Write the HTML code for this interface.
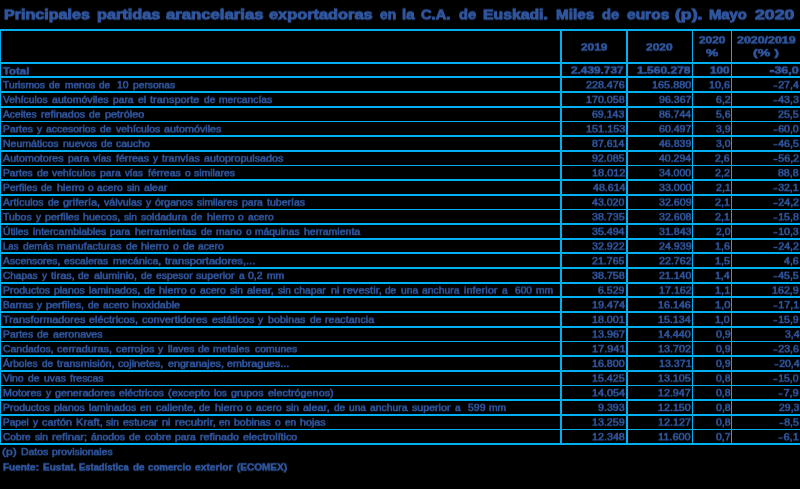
<!DOCTYPE html>
<html lang="es"><head><meta charset="utf-8"><title>Tabla</title>
<style>
html,body{margin:0;padding:0;background:#000;}
body{width:800px;height:489px;overflow:hidden;position:relative;font-family:"Liberation Sans",sans-serif;color:#30569F;}
#w{position:absolute;left:0;top:0;width:800px;height:489px;will-change:transform;}
svg{position:absolute;left:0;top:0;}
.t{position:absolute;white-space:pre;line-height:1;font-size:10.2px;transform-origin:0 0;-webkit-text-stroke:0.6px #30569F;}
.b{font-weight:bold;}
.ly{position:absolute;left:0;width:800px;will-change:transform;}
.tt{font-size:14.6px;-webkit-text-stroke:1px #30569F;}
.hy{display:inline-block;transform:scaleX(1.25);transform-origin:100% 50%;margin:0 0.6px 0 1px;}
.b .hy{transform:scale(1.15,1.5);margin:0 0.4px 0 0.6px;}
</style></head><body><div id="w">
<svg width="800" height="489" viewBox="0 0 800 489"><g fill="#00B0F0" shape-rendering="crispEdges"><rect x="0" y="29" width="800" height="2"/><rect x="0" y="62" width="800" height="2"/><rect x="0" y="76" width="800" height="2"/><rect x="0" y="91" width="800" height="2"/><rect x="0" y="106" width="800" height="2"/><rect x="0" y="121" width="800" height="1"/><rect x="0" y="135" width="800" height="2"/><rect x="0" y="150" width="800" height="2"/><rect x="0" y="165" width="800" height="1"/><rect x="0" y="179" width="800" height="2"/><rect x="0" y="194" width="800" height="2"/><rect x="0" y="209" width="800" height="1"/><rect x="0" y="223" width="800" height="2"/><rect x="0" y="238" width="800" height="2"/><rect x="0" y="252" width="800" height="2"/><rect x="0" y="267" width="800" height="2"/><rect x="0" y="282" width="800" height="2"/><rect x="0" y="296" width="800" height="2"/><rect x="0" y="311" width="800" height="2"/><rect x="0" y="326" width="800" height="2"/><rect x="0" y="341" width="800" height="1"/><rect x="0" y="355" width="800" height="2"/><rect x="0" y="370" width="800" height="2"/><rect x="0" y="385" width="800" height="1"/><rect x="0" y="399" width="800" height="2"/><rect x="0" y="414" width="800" height="2"/><rect x="0" y="429" width="800" height="1"/><rect x="0" y="443" width="800" height="2"/><rect x="0" y="29" width="1" height="416"/><rect x="560" y="29" width="2" height="416"/><rect x="626" y="29" width="2" height="416"/><rect x="692" y="29" width="1" height="416"/><rect x="731" y="29" width="1" height="416"/></g></svg>
<div class="ly" style="top:4px;height:24px;transform-origin:400px 15px;transform:translateY(0.30px) scaleY(0.96) rotate(0.004deg)">
<div id="t0" class="t b tt" style="left:4px;top:3px;transform:scaleX(1.1035)">Principales</div>
<div id="t1" class="t b tt" style="left:97px;top:3px;transform:scaleX(1.1162)">partidas</div>
<div id="t2" class="t b tt" style="left:166px;top:3px;transform:scaleX(1.1447)">arancelarias</div>
<div id="t3" class="t b tt" style="left:269px;top:3px;transform:scaleX(1.1204)">exportadoras</div>
<div id="t4" class="t b tt" style="left:380px;top:3px;transform:scaleX(0.9414)">en</div>
<div id="t5" class="t b tt" style="left:402px;top:3px;transform:scaleX(1.0217)">la</div>
<div id="t6" class="t b tt" style="left:421px;top:3px;transform:scaleX(1.0039)">C.A.</div>
<div id="t7" class="t b tt" style="left:459px;top:3px;transform:scaleX(1.0008)">de</div>
<div id="t8" class="t b tt" style="left:483px;top:3px;transform:scaleX(1.0799)">Euskadi.</div>
<div id="t9" class="t b tt" style="left:556px;top:3px;transform:scaleX(1.0456)">Miles</div>
<div id="t10" class="t b tt" style="left:602px;top:3px;transform:scaleX(1.0008)">de</div>
<div id="t11" class="t b tt" style="left:627px;top:3px;transform:scaleX(1.0634)">euros</div>
<div id="t12" class="t b tt" style="left:675px;top:3px;transform:scaleX(1.2078)">(p).</div>
<div id="t13" class="t b tt" style="left:709px;top:3px;transform:scaleX(1.0138)">Mayo</div>
<div id="t14" class="t b tt" style="left:755px;top:3px;transform:scaleX(1.2115)">2020</div>
</div>
<div class="ly" style="top:40px;height:24px;transform-origin:400px 11px;transform:translateY(-0.45px) scaleY(0.9) rotate(0.004deg)">
<div id="h1" class="t b" style="left:581px;top:3px;transform:scaleX(1.1594)">2019</div>
<div id="h2" class="t b" style="left:646px;top:3px;transform:scaleX(1.1699)">2020</div>
</div>
<div class="ly" style="top:32px;height:24px;transform-origin:400px 11px;transform:translateY(0.45px) scaleY(0.9) rotate(0.004deg)">
<div id="h3a" class="t b" style="left:699px;top:3px;transform:scaleX(1.1589)">2020</div>
<div id="h4a" class="t b" style="left:737px;top:3px;transform:scaleX(1.2181)">2020/2019</div>
</div>
<div class="ly" style="top:45px;height:24px;transform-origin:400px 11px;transform:translateY(0.30px) scaleY(0.9) rotate(0.004deg)">
<div id="h3b" class="t b" style="left:706px;top:3px;transform:scaleX(1.3440)">%</div>
<div id="h4b" class="t b" style="left:753px;top:3px;transform:scaleX(1.3872)">(% )</div>
</div>
<div class="ly" style="top:64px;height:24px;transform-origin:400px 11px;transform:translateY(-0.50px) scaleY(0.9) rotate(0.004deg)">
<div id="r0l" class="t b" style="left:3px;top:3px;transform:scaleX(1.1184)">Total</div>
</div>
<div class="ly" style="top:63px;height:24px;transform-origin:400px 11px;transform:translateY(-0.40px) scaleY(0.9) rotate(0.004deg)">
<div id="r0a" class="t b" style="left:571px;top:3px;transform:scaleX(1.1594)">2.439.737</div>
<div id="r0b" class="t b" style="left:637px;top:3px;transform:scaleX(1.1809)">1.560.278</div>
<div id="r0c" class="t b" style="left:710px;top:3px;transform:scaleX(1.1497)">100</div>
<div id="r0d" class="t b" style="left:769px;top:3px;transform:scaleX(1.2259)"><span class="hy">-</span>36,0</div>
</div>
<div class="ly" style="top:77px;height:24px;transform-origin:400px 11px;transform:translateY(0.35px) scaleY(0.9) rotate(0.004deg)">
<div id="r1w0" class="t" style="left:3px;top:3px;transform:scaleX(1.0109)">Turismos</div>
<div id="r1w1" class="t" style="left:49px;top:3px;transform:scaleX(0.9763)">de</div>
<div id="r1w2" class="t" style="left:65px;top:3px;transform:scaleX(0.9945)">menos</div>
<div id="r1w3" class="t" style="left:99px;top:3px;transform:scaleX(0.9763)">de</div>
<div id="r1w4" class="t" style="left:117px;top:3px;transform:scaleX(1.0171)">10</div>
<div id="r1w5" class="t" style="left:133px;top:3px;transform:scaleX(1.0039)">personas</div>
<div id="r1a" class="t" style="left:586px;top:3px;transform:scaleX(1.0482)">228.476</div>
<div id="r1b" class="t" style="left:652px;top:3px;transform:scaleX(1.0674)">165.880</div>
<div id="r1c" class="t" style="left:709px;top:3px;transform:scaleX(1.0668)">10,6</div>
<div id="r1d" class="t" style="left:773px;top:3px;transform:scaleX(1.0409)"><span class="hy">-</span>27,4</div>
</div>
<div class="ly" style="top:92px;height:24px;transform-origin:400px 11px;transform:translateY(0.01px) scaleY(0.9) rotate(0.004deg)">
<div id="r2w0" class="t" style="left:3px;top:3px;transform:scaleX(1.0099)">Vehículos</div>
<div id="r2w1" class="t" style="left:52px;top:3px;transform:scaleX(1.0409)">automóviles</div>
<div id="r2w2" class="t" style="left:113px;top:3px;transform:scaleX(1.0066)">para</div>
<div id="r2w3" class="t" style="left:138px;top:3px;transform:scaleX(1.0356)">el</div>
<div id="r2w4" class="t" style="left:150px;top:3px;transform:scaleX(1.0768)">transporte</div>
<div id="r2w5" class="t" style="left:204px;top:3px;transform:scaleX(0.9989)">de</div>
<div id="r2w6" class="t" style="left:219px;top:3px;transform:scaleX(1.0088)">mercancías</div>
<div id="r2a" class="t" style="left:586px;top:3px;transform:scaleX(1.0498)">170.058</div>
<div id="r2b" class="t" style="left:659px;top:3px;transform:scaleX(1.0403)">96.367</div>
<div id="r2c" class="t" style="left:716px;top:3px;transform:scaleX(1.0443)">6,2</div>
<div id="r2d" class="t" style="left:773px;top:3px;transform:scaleX(1.0376)"><span class="hy">-</span>43,3</div>
</div>
<div class="ly" style="top:107px;height:24px;transform-origin:400px 11px;transform:translateY(-0.32px) scaleY(0.9) rotate(0.004deg)">
<div id="r3w0" class="t" style="left:3px;top:3px;transform:scaleX(1.0085)">Aceites</div>
<div id="r3w1" class="t" style="left:41px;top:3px;transform:scaleX(1.0526)">refinados</div>
<div id="r3w2" class="t" style="left:89px;top:3px;transform:scaleX(1.0084)">de</div>
<div id="r3w3" class="t" style="left:105px;top:3px;transform:scaleX(1.0678)">petróleo</div>
<div id="r3a" class="t" style="left:592px;top:3px;transform:scaleX(1.0358)">69.143</div>
<div id="r3b" class="t" style="left:659px;top:3px;transform:scaleX(1.0296)">86.744</div>
<div id="r3c" class="t" style="left:716px;top:3px;transform:scaleX(1.0229)">5,6</div>
<div id="r3d" class="t" style="left:778px;top:3px;transform:scaleX(1.0435)">25,5</div>
</div>
<div class="ly" style="top:121px;height:24px;transform-origin:400px 11px;transform:translateY(0.34px) scaleY(0.9) rotate(0.004deg)">
<div id="r4w0" class="t" style="left:3px;top:3px;transform:scaleX(1.0155)">Partes</div>
<div id="r4w1" class="t" style="left:37px;top:3px;transform:scaleX(1.0000)">y</div>
<div id="r4w2" class="t" style="left:46px;top:3px;transform:scaleX(1.0231)">accesorios</div>
<div id="r4w3" class="t" style="left:100px;top:3px;transform:scaleX(1.0095)">de</div>
<div id="r4w4" class="t" style="left:116px;top:3px;transform:scaleX(1.0302)">vehículos</div>
<div id="r4w5" class="t" style="left:164px;top:3px;transform:scaleX(1.0558)">automóviles</div>
<div id="r4a" class="t" style="left:586px;top:3px;transform:scaleX(1.0690)">151.153</div>
<div id="r4b" class="t" style="left:659px;top:3px;transform:scaleX(1.0373)">60.497</div>
<div id="r4c" class="t" style="left:716px;top:3px;transform:scaleX(1.0312)">3,9</div>
<div id="r4d" class="t" style="left:773px;top:3px;transform:scaleX(1.0358)"><span class="hy">-</span>60,0</div>
</div>
<div class="ly" style="top:136px;height:24px;transform-origin:400px 11px;transform:translateY(0.01px) scaleY(0.9) rotate(0.004deg)">
<div id="r5w0" class="t" style="left:3px;top:3px;transform:scaleX(1.0337)">Neumáticos</div>
<div id="r5w1" class="t" style="left:63px;top:3px;transform:scaleX(1.0357)">nuevos</div>
<div id="r5w2" class="t" style="left:101px;top:3px;transform:scaleX(1.0027)">de</div>
<div id="r5w3" class="t" style="left:116px;top:3px;transform:scaleX(1.0296)">caucho</div>
<div id="r5a" class="t" style="left:592px;top:3px;transform:scaleX(1.0384)">87.614</div>
<div id="r5b" class="t" style="left:659px;top:3px;transform:scaleX(1.0368)">46.839</div>
<div id="r5c" class="t" style="left:716px;top:3px;transform:scaleX(1.0179)">3,0</div>
<div id="r5d" class="t" style="left:773px;top:3px;transform:scaleX(1.0376)"><span class="hy">-</span>46,5</div>
</div>
<div class="ly" style="top:151px;height:24px;transform-origin:400px 11px;transform:translateY(-0.33px) scaleY(0.9) rotate(0.004deg)">
<div id="r6w0" class="t" style="left:3px;top:3px;transform:scaleX(1.0488)">Automotores</div>
<div id="r6w1" class="t" style="left:68px;top:3px;transform:scaleX(1.0316)">para</div>
<div id="r6w2" class="t" style="left:93px;top:3px;transform:scaleX(0.9758)">vías</div>
<div id="r6w3" class="t" style="left:116px;top:3px;transform:scaleX(1.0439)">férreas</div>
<div id="r6w4" class="t" style="left:153px;top:3px;transform:scaleX(1.0000)">y</div>
<div id="r6w5" class="t" style="left:162px;top:3px;transform:scaleX(1.0419)">tranvías</div>
<div id="r6w6" class="t" style="left:204px;top:3px;transform:scaleX(1.0535)">autopropulsados</div>
<div id="r6a" class="t" style="left:592px;top:3px;transform:scaleX(1.0421)">92.085</div>
<div id="r6b" class="t" style="left:659px;top:3px;transform:scaleX(1.0280)">40.294</div>
<div id="r6c" class="t" style="left:715px;top:3px;transform:scaleX(1.0307)">2,6</div>
<div id="r6d" class="t" style="left:773px;top:3px;transform:scaleX(1.0493)"><span class="hy">-</span>56,2</div>
</div>
<div class="ly" style="top:165px;height:24px;transform-origin:400px 11px;transform:translateY(0.33px) scaleY(0.9) rotate(0.004deg)">
<div id="r7w0" class="t" style="left:3px;top:3px;transform:scaleX(1.0113)">Partes</div>
<div id="r7w1" class="t" style="left:37px;top:3px;transform:scaleX(1.0309)">de</div>
<div id="r7w2" class="t" style="left:52px;top:3px;transform:scaleX(1.0141)">vehículos</div>
<div id="r7w3" class="t" style="left:100px;top:3px;transform:scaleX(1.0248)">para</div>
<div id="r7w4" class="t" style="left:125px;top:3px;transform:scaleX(0.9506)">vías</div>
<div id="r7w5" class="t" style="left:148px;top:3px;transform:scaleX(1.0332)">férreas</div>
<div id="r7w6" class="t" style="left:185px;top:3px;transform:scaleX(1.0000)">o</div>
<div id="r7w7" class="t" style="left:194px;top:3px;transform:scaleX(1.0214)">similares</div>
<div id="r7a" class="t" style="left:592px;top:3px;transform:scaleX(1.0728)">18.012</div>
<div id="r7b" class="t" style="left:659px;top:3px;transform:scaleX(1.0304)">34.000</div>
<div id="r7c" class="t" style="left:715px;top:3px;transform:scaleX(1.0480)">2,2</div>
<div id="r7d" class="t" style="left:778px;top:3px;transform:scaleX(1.0330)">88,8</div>
</div>
<div class="ly" style="top:180px;height:24px;transform-origin:400px 11px;transform:translateY(-0.00px) scaleY(0.9) rotate(0.004deg)">
<div id="r8w0" class="t" style="left:3px;top:3px;transform:scaleX(1.0125)">Perfiles</div>
<div id="r8w1" class="t" style="left:41px;top:3px;transform:scaleX(0.9875)">de</div>
<div id="r8w2" class="t" style="left:57px;top:3px;transform:scaleX(1.0589)">hierro</div>
<div id="r8w3" class="t" style="left:88px;top:3px;transform:scaleX(1.0000)">o</div>
<div id="r8w4" class="t" style="left:97px;top:3px;transform:scaleX(1.0047)">acero</div>
<div id="r8w5" class="t" style="left:127px;top:3px;transform:scaleX(0.9856)">sin</div>
<div id="r8w6" class="t" style="left:144px;top:3px;transform:scaleX(1.0224)">alear</div>
<div id="r8a" class="t" style="left:593px;top:3px;transform:scaleX(1.0415)">48.614</div>
<div id="r8b" class="t" style="left:659px;top:3px;transform:scaleX(1.0439)">33.000</div>
<div id="r8c" class="t" style="left:716px;top:3px;transform:scaleX(1.0402)">2,1</div>
<div id="r8d" class="t" style="left:773px;top:3px;transform:scaleX(1.0331)"><span class="hy">-</span>32,1</div>
</div>
<div class="ly" style="top:195px;height:24px;transform-origin:400px 11px;transform:translateY(-0.34px) scaleY(0.9) rotate(0.004deg)">
<div id="r9w0" class="t" style="left:3px;top:3px;transform:scaleX(1.0230)">Artículos</div>
<div id="r9w1" class="t" style="left:48px;top:3px;transform:scaleX(0.9909)">de</div>
<div id="r9w2" class="t" style="left:63px;top:3px;transform:scaleX(1.0749)">grifería,</div>
<div id="r9w3" class="t" style="left:104px;top:3px;transform:scaleX(1.0345)">válvulas</div>
<div id="r9w4" class="t" style="left:146px;top:3px;transform:scaleX(1.0000)">y</div>
<div id="r9w5" class="t" style="left:155px;top:3px;transform:scaleX(1.0313)">órganos</div>
<div id="r9w6" class="t" style="left:197px;top:3px;transform:scaleX(1.0119)">similares</div>
<div id="r9w7" class="t" style="left:242px;top:3px;transform:scaleX(1.0270)">para</div>
<div id="r9w8" class="t" style="left:267px;top:3px;transform:scaleX(1.0353)">tuberías</div>
<div id="r9a" class="t" style="left:592px;top:3px;transform:scaleX(1.0378)">43.020</div>
<div id="r9b" class="t" style="left:659px;top:3px;transform:scaleX(1.0454)">32.609</div>
<div id="r9c" class="t" style="left:715px;top:3px;transform:scaleX(1.0682)">2,1</div>
<div id="r9d" class="t" style="left:773px;top:3px;transform:scaleX(1.0494)"><span class="hy">-</span>24,2</div>
</div>
<div class="ly" style="top:209px;height:24px;transform-origin:400px 11px;transform:translateY(0.33px) scaleY(0.9) rotate(0.004deg)">
<div id="r10w0" class="t" style="left:3px;top:3px;transform:scaleX(1.0256)">Tubos</div>
<div id="r10w1" class="t" style="left:36px;top:3px;transform:scaleX(1.0000)">y</div>
<div id="r10w2" class="t" style="left:45px;top:3px;transform:scaleX(1.0408)">perfiles</div>
<div id="r10w3" class="t" style="left:83px;top:3px;transform:scaleX(1.0411)">huecos,</div>
<div id="r10w4" class="t" style="left:124px;top:3px;transform:scaleX(0.9953)">sin</div>
<div id="r10w5" class="t" style="left:141px;top:3px;transform:scaleX(1.0279)">soldadura</div>
<div id="r10w6" class="t" style="left:191px;top:3px;transform:scaleX(0.9943)">de</div>
<div id="r10w7" class="t" style="left:207px;top:3px;transform:scaleX(1.0604)">hierro</div>
<div id="r10w8" class="t" style="left:238px;top:3px;transform:scaleX(1.0000)">o</div>
<div id="r10w9" class="t" style="left:248px;top:3px;transform:scaleX(1.0029)">acero</div>
<div id="r10a" class="t" style="left:592px;top:3px;transform:scaleX(1.0454)">38.735</div>
<div id="r10b" class="t" style="left:659px;top:3px;transform:scaleX(1.0424)">32.608</div>
<div id="r10c" class="t" style="left:715px;top:3px;transform:scaleX(1.0504)">2,1</div>
<div id="r10d" class="t" style="left:773px;top:3px;transform:scaleX(1.0384)"><span class="hy">-</span>15,8</div>
</div>
<div class="ly" style="top:224px;height:24px;transform-origin:400px 11px;transform:translateY(-0.01px) scaleY(0.9) rotate(0.004deg)">
<div id="r11w0" class="t" style="left:3px;top:3px;transform:scaleX(1.0073)">Útiles</div>
<div id="r11w1" class="t" style="left:33px;top:3px;transform:scaleX(1.0276)">intercambiables</div>
<div id="r11w2" class="t" style="left:110px;top:3px;transform:scaleX(0.9844)">para</div>
<div id="r11w3" class="t" style="left:135px;top:3px;transform:scaleX(1.0359)">herramientas</div>
<div id="r11w4" class="t" style="left:201px;top:3px;transform:scaleX(0.9786)">de</div>
<div id="r11w5" class="t" style="left:216px;top:3px;transform:scaleX(1.0105)">mano</div>
<div id="r11w6" class="t" style="left:246px;top:3px;transform:scaleX(1.0000)">o</div>
<div id="r11w7" class="t" style="left:255px;top:3px;transform:scaleX(1.0091)">máquinas</div>
<div id="r11w8" class="t" style="left:304px;top:3px;transform:scaleX(1.0334)">herramienta</div>
<div id="r11a" class="t" style="left:592px;top:3px;transform:scaleX(1.0427)">35.494</div>
<div id="r11b" class="t" style="left:659px;top:3px;transform:scaleX(1.0410)">31.843</div>
<div id="r11c" class="t" style="left:716px;top:3px;transform:scaleX(1.0185)">2,0</div>
<div id="r11d" class="t" style="left:773px;top:3px;transform:scaleX(1.0369)"><span class="hy">-</span>10,3</div>
</div>
<div class="ly" style="top:239px;height:24px;transform-origin:400px 11px;transform:translateY(-0.35px) scaleY(0.9) rotate(0.004deg)">
<div id="r12w0" class="t" style="left:3px;top:3px;transform:scaleX(0.9442)">Las</div>
<div id="r12w1" class="t" style="left:23px;top:3px;transform:scaleX(1.0004)">demás</div>
<div id="r12w2" class="t" style="left:57px;top:3px;transform:scaleX(1.0463)">manufacturas</div>
<div id="r12w3" class="t" style="left:126px;top:3px;transform:scaleX(1.0159)">de</div>
<div id="r12w4" class="t" style="left:141px;top:3px;transform:scaleX(1.0649)">hierro</div>
<div id="r12w5" class="t" style="left:173px;top:3px;transform:scaleX(1.0000)">o</div>
<div id="r12w6" class="t" style="left:183px;top:3px;transform:scaleX(1.0148)">de</div>
<div id="r12w7" class="t" style="left:198px;top:3px;transform:scaleX(1.0106)">acero</div>
<div id="r12a" class="t" style="left:592px;top:3px;transform:scaleX(1.0489)">32.922</div>
<div id="r12b" class="t" style="left:659px;top:3px;transform:scaleX(1.0465)">24.939</div>
<div id="r12c" class="t" style="left:715px;top:3px;transform:scaleX(1.0529)">1,6</div>
<div id="r12d" class="t" style="left:773px;top:3px;transform:scaleX(1.0485)"><span class="hy">-</span>24,2</div>
</div>
<div class="ly" style="top:253px;height:24px;transform-origin:400px 11px;transform:translateY(0.32px) scaleY(0.9) rotate(0.004deg)">
<div id="r13w0" class="t" style="left:3px;top:3px;transform:scaleX(1.0252)">Ascensores,</div>
<div id="r13w1" class="t" style="left:64px;top:3px;transform:scaleX(1.0148)">escaleras</div>
<div id="r13w2" class="t" style="left:113px;top:3px;transform:scaleX(1.0403)">mecánica,</div>
<div id="r13w3" class="t" style="left:165px;top:3px;transform:scaleX(1.0915)">transportadores,...</div>
<div id="r13a" class="t" style="left:592px;top:3px;transform:scaleX(1.0412)">21.765</div>
<div id="r13b" class="t" style="left:659px;top:3px;transform:scaleX(1.0491)">22.762</div>
<div id="r13c" class="t" style="left:715px;top:3px;transform:scaleX(1.0705)">1,5</div>
<div id="r13d" class="t" style="left:784px;top:3px;transform:scaleX(1.0378)">4,6</div>
</div>
<div class="ly" style="top:268px;height:24px;transform-origin:400px 11px;transform:translateY(-0.02px) scaleY(0.9) rotate(0.004deg)">
<div id="r14w0" class="t" style="left:3px;top:3px;transform:scaleX(0.9834)">Chapas</div>
<div id="r14w1" class="t" style="left:42px;top:3px;transform:scaleX(1.0000)">y</div>
<div id="r14w2" class="t" style="left:51px;top:3px;transform:scaleX(1.0811)">tiras,</div>
<div id="r14w3" class="t" style="left:78px;top:3px;transform:scaleX(0.9878)">de</div>
<div id="r14w4" class="t" style="left:94px;top:3px;transform:scaleX(1.0555)">aluminio,</div>
<div id="r14w5" class="t" style="left:141px;top:3px;transform:scaleX(0.9877)">de</div>
<div id="r14w6" class="t" style="left:156px;top:3px;transform:scaleX(1.0117)">espesor</div>
<div id="r14w7" class="t" style="left:196px;top:3px;transform:scaleX(1.0494)">superior</div>
<div id="r14w8" class="t" style="left:239px;top:3px;transform:scaleX(1.0000)">a</div>
<div id="r14w9" class="t" style="left:248px;top:3px;transform:scaleX(1.0281)">0,2</div>
<div id="r14w10" class="t" style="left:267px;top:3px;transform:scaleX(1.0112)">mm</div>
<div id="r14a" class="t" style="left:592px;top:3px;transform:scaleX(1.0505)">38.758</div>
<div id="r14b" class="t" style="left:659px;top:3px;transform:scaleX(1.0369)">21.140</div>
<div id="r14c" class="t" style="left:715px;top:3px;transform:scaleX(1.0340)">1,4</div>
<div id="r14d" class="t" style="left:773px;top:3px;transform:scaleX(1.0367)"><span class="hy">-</span>45,5</div>
</div>
<div class="ly" style="top:283px;height:24px;transform-origin:400px 11px;transform:translateY(-0.35px) scaleY(0.9) rotate(0.004deg)">
<div id="r15w0" class="t" style="left:3px;top:3px;transform:scaleX(1.0267)">Productos</div>
<div id="r15w1" class="t" style="left:54px;top:3px;transform:scaleX(1.0215)">planos</div>
<div id="r15w2" class="t" style="left:89px;top:3px;transform:scaleX(1.0371)">laminados,</div>
<div id="r15w3" class="t" style="left:144px;top:3px;transform:scaleX(0.9917)">de</div>
<div id="r15w4" class="t" style="left:159px;top:3px;transform:scaleX(1.0622)">hierro</div>
<div id="r15w5" class="t" style="left:190px;top:3px;transform:scaleX(1.0000)">o</div>
<div id="r15w6" class="t" style="left:200px;top:3px;transform:scaleX(1.0117)">acero</div>
<div id="r15w7" class="t" style="left:230px;top:3px;transform:scaleX(0.9877)">sin</div>
<div id="r15w8" class="t" style="left:247px;top:3px;transform:scaleX(1.0749)">alear,</div>
<div id="r15w9" class="t" style="left:278px;top:3px;transform:scaleX(0.9877)">sin</div>
<div id="r15w10" class="t" style="left:294px;top:3px;transform:scaleX(1.0161)">chapar</div>
<div id="r15w11" class="t" style="left:331px;top:3px;transform:scaleX(1.0430)">ni</div>
<div id="r15w12" class="t" style="left:343px;top:3px;transform:scaleX(1.0877)">revestir,</div>
<div id="r15w13" class="t" style="left:385px;top:3px;transform:scaleX(0.9903)">de</div>
<div id="r15w14" class="t" style="left:401px;top:3px;transform:scaleX(1.0064)">una</div>
<div id="r15w15" class="t" style="left:422px;top:3px;transform:scaleX(1.0193)">anchura</div>
<div id="r15w16" class="t" style="left:464px;top:3px;transform:scaleX(1.0705)">inferior</div>
<div id="r15w17" class="t" style="left:502px;top:3px;transform:scaleX(1.0000)">a</div>
<div id="r15w18" class="t" style="left:515px;top:3px;transform:scaleX(1.0007)">600</div>
<div id="r15w19" class="t" style="left:536px;top:3px;transform:scaleX(1.0090)">mm</div>
<div id="r15a" class="t" style="left:598px;top:3px;transform:scaleX(1.0335)">6.529</div>
<div id="r15b" class="t" style="left:659px;top:3px;transform:scaleX(1.0505)">17.162</div>
<div id="r15c" class="t" style="left:715px;top:3px;transform:scaleX(1.0799)">1,1</div>
<div id="r15d" class="t" style="left:772px;top:3px;transform:scaleX(1.0483)">162,9</div>
</div>
<div class="ly" style="top:297px;height:24px;transform-origin:400px 11px;transform:translateY(0.31px) scaleY(0.9) rotate(0.004deg)">
<div id="r16w0" class="t" style="left:3px;top:3px;transform:scaleX(1.0048)">Barras</div>
<div id="r16w1" class="t" style="left:37px;top:3px;transform:scaleX(1.0000)">y</div>
<div id="r16w2" class="t" style="left:46px;top:3px;transform:scaleX(1.0680)">perfiles,</div>
<div id="r16w3" class="t" style="left:88px;top:3px;transform:scaleX(0.9863)">de</div>
<div id="r16w4" class="t" style="left:103px;top:3px;transform:scaleX(1.0138)">acero</div>
<div id="r16w5" class="t" style="left:132px;top:3px;transform:scaleX(1.0462)">inoxidable</div>
<div id="r16a" class="t" style="left:592px;top:3px;transform:scaleX(1.0611)">19.474</div>
<div id="r16b" class="t" style="left:658px;top:3px;transform:scaleX(1.0541)">16.146</div>
<div id="r16c" class="t" style="left:715px;top:3px;transform:scaleX(1.0944)">1,0</div>
<div id="r16d" class="t" style="left:773px;top:3px;transform:scaleX(1.0508)"><span class="hy">-</span>17,1</div>
</div>
<div class="ly" style="top:312px;height:24px;transform-origin:400px 11px;transform:translateY(-0.03px) scaleY(0.9) rotate(0.004deg)">
<div id="r17w0" class="t" style="left:3px;top:3px;transform:scaleX(1.0688)">Transformadores</div>
<div id="r17w1" class="t" style="left:89px;top:3px;transform:scaleX(1.0704)">eléctricos,</div>
<div id="r17w2" class="t" style="left:142px;top:3px;transform:scaleX(1.0698)">convertidores</div>
<div id="r17w3" class="t" style="left:212px;top:3px;transform:scaleX(1.0544)">estáticos</div>
<div id="r17w4" class="t" style="left:258px;top:3px;transform:scaleX(1.0000)">y</div>
<div id="r17w5" class="t" style="left:268px;top:3px;transform:scaleX(1.0485)">bobinas</div>
<div id="r17w6" class="t" style="left:310px;top:3px;transform:scaleX(1.0164)">de</div>
<div id="r17w7" class="t" style="left:325px;top:3px;transform:scaleX(1.0434)">reactancia</div>
<div id="r17a" class="t" style="left:592px;top:3px;transform:scaleX(1.0500)">18.001</div>
<div id="r17b" class="t" style="left:658px;top:3px;transform:scaleX(1.0474)">15.134</div>
<div id="r17c" class="t" style="left:715px;top:3px;transform:scaleX(1.0317)">1,0</div>
<div id="r17d" class="t" style="left:773px;top:3px;transform:scaleX(1.0337)"><span class="hy">-</span>15,9</div>
</div>
<div class="ly" style="top:327px;height:24px;transform-origin:400px 11px;transform:translateY(-0.36px) scaleY(0.9) rotate(0.004deg)">
<div id="r18w0" class="t" style="left:3px;top:3px;transform:scaleX(1.0217)">Partes</div>
<div id="r18w1" class="t" style="left:37px;top:3px;transform:scaleX(1.0247)">de</div>
<div id="r18w2" class="t" style="left:53px;top:3px;transform:scaleX(1.0419)">aeronaves</div>
<div id="r18a" class="t" style="left:592px;top:3px;transform:scaleX(1.0589)">13.967</div>
<div id="r18b" class="t" style="left:658px;top:3px;transform:scaleX(1.0463)">14.440</div>
<div id="r18c" class="t" style="left:716px;top:3px;transform:scaleX(1.0444)">0,9</div>
<div id="r18d" class="t" style="left:785px;top:3px;transform:scaleX(1.0170)">3,4</div>
</div>
<div class="ly" style="top:341px;height:24px;transform-origin:400px 11px;transform:translateY(0.30px) scaleY(0.9) rotate(0.004deg)">
<div id="r19w0" class="t" style="left:3px;top:3px;transform:scaleX(1.0269)">Candados,</div>
<div id="r19w1" class="t" style="left:57px;top:3px;transform:scaleX(1.0669)">cerraduras,</div>
<div id="r19w2" class="t" style="left:116px;top:3px;transform:scaleX(1.0595)">cerrojos</div>
<div id="r19w3" class="t" style="left:158px;top:3px;transform:scaleX(1.0000)">y</div>
<div id="r19w4" class="t" style="left:168px;top:3px;transform:scaleX(1.0167)">llaves</div>
<div id="r19w5" class="t" style="left:198px;top:3px;transform:scaleX(1.0319)">de</div>
<div id="r19w6" class="t" style="left:213px;top:3px;transform:scaleX(1.0289)">metales</div>
<div id="r19w7" class="t" style="left:255px;top:3px;transform:scaleX(1.0222)">comunes</div>
<div id="r19a" class="t" style="left:592px;top:3px;transform:scaleX(1.0740)">17.941</div>
<div id="r19b" class="t" style="left:658px;top:3px;transform:scaleX(1.0553)">13.702</div>
<div id="r19c" class="t" style="left:716px;top:3px;transform:scaleX(1.0237)">0,9</div>
<div id="r19d" class="t" style="left:773px;top:3px;transform:scaleX(1.0442)"><span class="hy">-</span>23,6</div>
</div>
<div class="ly" style="top:356px;height:24px;transform-origin:400px 11px;transform:translateY(-0.03px) scaleY(0.9) rotate(0.004deg)">
<div id="r20w0" class="t" style="left:3px;top:3px;transform:scaleX(0.9980)">Árboles</div>
<div id="r20w1" class="t" style="left:42px;top:3px;transform:scaleX(0.9809)">de</div>
<div id="r20w2" class="t" style="left:57px;top:3px;transform:scaleX(1.0460)">transmisión,</div>
<div id="r20w3" class="t" style="left:118px;top:3px;transform:scaleX(1.0528)">cojinetes,</div>
<div id="r20w4" class="t" style="left:168px;top:3px;transform:scaleX(1.0509)">engranajes,</div>
<div id="r20w5" class="t" style="left:227px;top:3px;transform:scaleX(1.0474)">embragues...</div>
<div id="r20a" class="t" style="left:592px;top:3px;transform:scaleX(1.0471)">16.800</div>
<div id="r20b" class="t" style="left:659px;top:3px;transform:scaleX(1.0452)">13.371</div>
<div id="r20c" class="t" style="left:716px;top:3px;transform:scaleX(1.0275)">0,9</div>
<div id="r20d" class="t" style="left:774px;top:3px;transform:scaleX(1.0250)"><span class="hy">-</span>20,4</div>
</div>
<div class="ly" style="top:371px;height:24px;transform-origin:400px 11px;transform:translateY(-0.37px) scaleY(0.9) rotate(0.004deg)">
<div id="r21w0" class="t" style="left:3px;top:3px;transform:scaleX(1.0221)">Vino</div>
<div id="r21w1" class="t" style="left:28px;top:3px;transform:scaleX(1.0111)">de</div>
<div id="r21w2" class="t" style="left:44px;top:3px;transform:scaleX(1.0179)">uvas</div>
<div id="r21w3" class="t" style="left:70px;top:3px;transform:scaleX(1.0203)">frescas</div>
<div id="r21a" class="t" style="left:592px;top:3px;transform:scaleX(1.0494)">15.425</div>
<div id="r21b" class="t" style="left:658px;top:3px;transform:scaleX(1.0500)">13.105</div>
<div id="r21c" class="t" style="left:716px;top:3px;transform:scaleX(1.0152)">0,8</div>
<div id="r21d" class="t" style="left:773px;top:3px;transform:scaleX(1.0252)"><span class="hy">-</span>15,0</div>
</div>
<div class="ly" style="top:385px;height:24px;transform-origin:400px 11px;transform:translateY(0.29px) scaleY(0.9) rotate(0.004deg)">
<div id="r22w0" class="t" style="left:3px;top:3px;transform:scaleX(1.0526)">Motores</div>
<div id="r22w1" class="t" style="left:46px;top:3px;transform:scaleX(1.0000)">y</div>
<div id="r22w2" class="t" style="left:55px;top:3px;transform:scaleX(1.0511)">generadores</div>
<div id="r22w3" class="t" style="left:119px;top:3px;transform:scaleX(1.0425)">eléctricos</div>
<div id="r22w4" class="t" style="left:168px;top:3px;transform:scaleX(1.0734)">(excepto</div>
<div id="r22w5" class="t" style="left:214px;top:3px;transform:scaleX(0.9893)">los</div>
<div id="r22w6" class="t" style="left:231px;top:3px;transform:scaleX(1.0431)">grupos</div>
<div id="r22w7" class="t" style="left:268px;top:3px;transform:scaleX(1.0644)">electrógenos)</div>
<div id="r22a" class="t" style="left:592px;top:3px;transform:scaleX(1.0636)">14.054</div>
<div id="r22b" class="t" style="left:658px;top:3px;transform:scaleX(1.0484)">12.947</div>
<div id="r22c" class="t" style="left:716px;top:3px;transform:scaleX(1.0275)">0,8</div>
<div id="r22d" class="t" style="left:778px;top:3px;transform:scaleX(1.0819)"><span class="hy">-</span>7,9</div>
</div>
<div class="ly" style="top:400px;height:24px;transform-origin:400px 11px;transform:translateY(-0.04px) scaleY(0.9) rotate(0.004deg)">
<div id="r23w0" class="t" style="left:3px;top:3px;transform:scaleX(1.0235)">Productos</div>
<div id="r23w1" class="t" style="left:54px;top:3px;transform:scaleX(1.0212)">planos</div>
<div id="r23w2" class="t" style="left:89px;top:3px;transform:scaleX(1.0173)">laminados</div>
<div id="r23w3" class="t" style="left:140px;top:3px;transform:scaleX(1.0098)">en</div>
<div id="r23w4" class="t" style="left:156px;top:3px;transform:scaleX(1.0545)">caliente,</div>
<div id="r23w5" class="t" style="left:199px;top:3px;transform:scaleX(0.9926)">de</div>
<div id="r23w6" class="t" style="left:215px;top:3px;transform:scaleX(1.0627)">hierro</div>
<div id="r23w7" class="t" style="left:246px;top:3px;transform:scaleX(1.0000)">o</div>
<div id="r23w8" class="t" style="left:256px;top:3px;transform:scaleX(1.0099)">acero</div>
<div id="r23w9" class="t" style="left:286px;top:3px;transform:scaleX(0.9976)">sin</div>
<div id="r23w10" class="t" style="left:303px;top:3px;transform:scaleX(1.0708)">alear,</div>
<div id="r23w11" class="t" style="left:334px;top:3px;transform:scaleX(0.9887)">de</div>
<div id="r23w12" class="t" style="left:349px;top:3px;transform:scaleX(0.9941)">una</div>
<div id="r23w13" class="t" style="left:370px;top:3px;transform:scaleX(1.0201)">anchura</div>
<div id="r23w14" class="t" style="left:412px;top:3px;transform:scaleX(1.0446)">superior</div>
<div id="r23w15" class="t" style="left:455px;top:3px;transform:scaleX(1.0000)">a</div>
<div id="r23w16" class="t" style="left:468px;top:3px;transform:scaleX(1.0267)">599</div>
<div id="r23w17" class="t" style="left:489px;top:3px;transform:scaleX(1.0083)">mm</div>
<div id="r23a" class="t" style="left:598px;top:3px;transform:scaleX(1.0481)">9.393</div>
<div id="r23b" class="t" style="left:658px;top:3px;transform:scaleX(1.0504)">12.150</div>
<div id="r23c" class="t" style="left:716px;top:3px;transform:scaleX(1.0403)">0,8</div>
<div id="r23d" class="t" style="left:779px;top:3px;transform:scaleX(1.0266)">29,3</div>
</div>
<div class="ly" style="top:415px;height:24px;transform-origin:400px 11px;transform:translateY(-0.38px) scaleY(0.9) rotate(0.004deg)">
<div id="r24w0" class="t" style="left:3px;top:3px;transform:scaleX(0.9865)">Papel</div>
<div id="r24w1" class="t" style="left:33px;top:3px;transform:scaleX(1.0000)">y</div>
<div id="r24w2" class="t" style="left:42px;top:3px;transform:scaleX(1.0574)">cartón</div>
<div id="r24w3" class="t" style="left:76px;top:3px;transform:scaleX(1.1007)">Kraft,</div>
<div id="r24w4" class="t" style="left:106px;top:3px;transform:scaleX(0.9997)">sin</div>
<div id="r24w5" class="t" style="left:123px;top:3px;transform:scaleX(1.0363)">estucar</div>
<div id="r24w6" class="t" style="left:162px;top:3px;transform:scaleX(1.0764)">ni</div>
<div id="r24w7" class="t" style="left:175px;top:3px;transform:scaleX(1.1086)">recubrir,</div>
<div id="r24w8" class="t" style="left:219px;top:3px;transform:scaleX(0.9883)">en</div>
<div id="r24w9" class="t" style="left:234px;top:3px;transform:scaleX(1.0333)">bobinas</div>
<div id="r24w10" class="t" style="left:275px;top:3px;transform:scaleX(1.0000)">o</div>
<div id="r24w11" class="t" style="left:285px;top:3px;transform:scaleX(0.9883)">en</div>
<div id="r24w12" class="t" style="left:300px;top:3px;transform:scaleX(1.0494)">hojas</div>
<div id="r24a" class="t" style="left:592px;top:3px;transform:scaleX(1.0496)">13.259</div>
<div id="r24b" class="t" style="left:658px;top:3px;transform:scaleX(1.0575)">12.127</div>
<div id="r24c" class="t" style="left:716px;top:3px;transform:scaleX(1.0348)">0,8</div>
<div id="r24d" class="t" style="left:779px;top:3px;transform:scaleX(1.0378)"><span class="hy">-</span>8,5</div>
</div>
<div class="ly" style="top:429px;height:24px;transform-origin:400px 11px;transform:translateY(0.29px) scaleY(0.9) rotate(0.004deg)">
<div id="r25w0" class="t" style="left:3px;top:3px;transform:scaleX(0.9976)">Cobre</div>
<div id="r25w1" class="t" style="left:35px;top:3px;transform:scaleX(1.0017)">sin</div>
<div id="r25w2" class="t" style="left:52px;top:3px;transform:scaleX(1.1072)">refinar;</div>
<div id="r25w3" class="t" style="left:91px;top:3px;transform:scaleX(1.0176)">ánodos</div>
<div id="r25w4" class="t" style="left:129px;top:3px;transform:scaleX(1.0143)">de</div>
<div id="r25w5" class="t" style="left:145px;top:3px;transform:scaleX(1.0298)">cobre</div>
<div id="r25w6" class="t" style="left:175px;top:3px;transform:scaleX(1.0200)">para</div>
<div id="r25w7" class="t" style="left:200px;top:3px;transform:scaleX(1.0588)">refinado</div>
<div id="r25w8" class="t" style="left:243px;top:3px;transform:scaleX(1.0545)">electrolítico</div>
<div id="r25a" class="t" style="left:592px;top:3px;transform:scaleX(1.0538)">12.348</div>
<div id="r25b" class="t" style="left:658px;top:3px;transform:scaleX(1.0752)">11.600</div>
<div id="r25c" class="t" style="left:716px;top:3px;transform:scaleX(1.0285)">0,7</div>
<div id="r25d" class="t" style="left:778px;top:3px;transform:scaleX(1.0882)"><span class="hy">-</span>6,1</div>
</div>
<div class="ly" style="top:444px;height:24px;transform-origin:400px 11px;transform:translateY(0.20px) scaleY(0.9) rotate(0.004deg)">
<div id="f1w0" class="t" style="left:2px;top:3px;transform:scaleX(1.1849)">(p)</div>
<div id="f1w1" class="t" style="left:21px;top:3px;transform:scaleX(1.0269)">Datos</div>
<div id="f1w2" class="t" style="left:52px;top:3px;transform:scaleX(1.0193)">provisionales</div>
</div>
<div class="ly" style="top:460px;height:24px;transform-origin:400px 11px;transform:translateY(-0.45px) scaleY(0.9) rotate(0.004deg)">
<div id="f2w0" class="t b" style="left:3px;top:3px;transform:scaleX(0.9781)">Fuente:</div>
<div id="f2w1" class="t b" style="left:43px;top:3px;transform:scaleX(0.9867)">Eustat.</div>
<div id="f2w2" class="t b" style="left:79px;top:3px;transform:scaleX(0.9229)">Estadística</div>
<div id="f2w3" class="t b" style="left:133px;top:3px;transform:scaleX(0.9620)">de</div>
<div id="f2w4" class="t b" style="left:148px;top:3px;transform:scaleX(0.9523)">comercio</div>
<div id="f2w5" class="t b" style="left:195px;top:3px;transform:scaleX(1.0057)">exterior</div>
<div id="f2w6" class="t b" style="left:237px;top:3px;transform:scaleX(0.9814)">(ECOMEX)</div>
</div>
</div></body></html>
